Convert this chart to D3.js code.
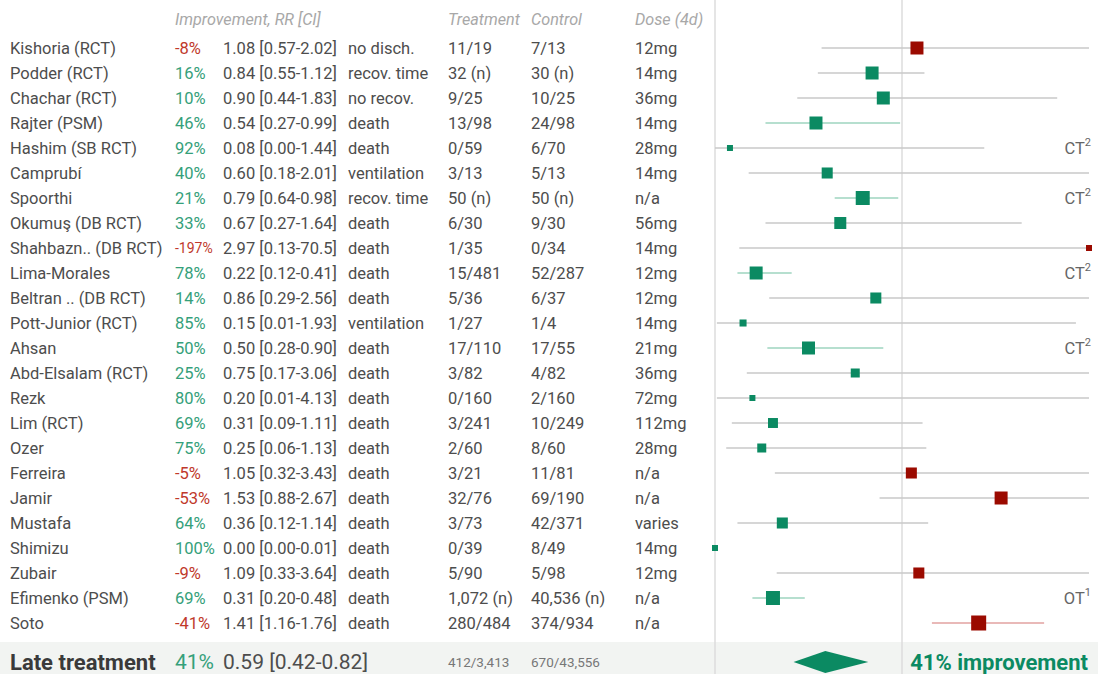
<!DOCTYPE html>
<html>
<head>
<meta charset="utf-8">
<script src="https://cdn.jsdelivr.net/npm/d3@7"></script>
<style>
  html, body { margin: 0; padding: 0; background: #fff; }
  svg { display: block; font-family: Roboto, "Noto Sans", sans-serif; }
</style>
</head>
<body>
<svg id="chart" width="1098" height="674"></svg>
<script>
// Late treatment studies
const studies = ["Kishoria (RCT)", "Podder (RCT)", "Chachar (RCT)", "Rajter (PSM)", "Hashim (SB RCT)",
  "Camprubí", "Spoorthi", "Okumuş (DB RCT)", "Shahbazn.. (DB RCT)", "Lima-Morales", "Beltran .. (DB RCT)",
  "Pott-Junior (RCT)", "Ahsan", "Abd-Elsalam (RCT)", "Rezk", "Lim (RCT)", "Ozer", "Ferreira", "Jamir",
  "Mustafa", "Shimizu", "Zubair", "Efimenko (PSM)", "Soto"];
const rr = [1.08, 0.84, 0.90, 0.54, 0.08, 0.60, 0.79, 0.67, 2.97, 0.22, 0.86, 0.15, 0.50, 0.75, 0.20,
  0.31, 0.25, 1.05, 1.53, 0.36, 0.00, 1.09, 0.31, 1.41];
const ciLow = [0.57, 0.55, 0.44, 0.27, 0.00, 0.18, 0.64, 0.27, 0.13, 0.12, 0.29, 0.01, 0.28, 0.17, 0.01,
  0.09, 0.06, 0.32, 0.88, 0.12, 0.00, 0.33, 0.20, 1.16];
const ciHigh = [2.02, 1.12, 1.83, 0.99, 1.44, 2.01, 0.98, 1.64, 70.5, 0.41, 2.56, 1.93, 0.90, 3.06, 4.13,
  1.11, 1.13, 3.43, 2.67, 1.14, 0.01, 3.64, 0.48, 1.76];
const outcomes = ["no disch.", "recov. time", "no recov.", "death", "death", "ventilation", "recov. time",
  "death", "death", "death", "death", "ventilation", "death", "death", "death", "death", "death", "death",
  "death", "death", "death", "death", "death", "death"];
const treatment = ["11/19", "32 (n)", "9/25", "13/98", "0/59", "3/13", "50 (n)", "6/30", "1/35", "15/481",
  "5/36", "1/27", "17/110", "3/82", "0/160", "3/241", "2/60", "3/21", "32/76", "3/73", "0/39", "5/90",
  "1,072 (n)", "280/484"];
const control = ["7/13", "30 (n)", "10/25", "24/98", "6/70", "5/13", "50 (n)", "9/30", "0/34", "52/287",
  "6/37", "1/4", "17/55", "4/82", "2/160", "10/249", "8/60", "11/81", "69/190", "42/371", "8/49", "5/98",
  "40,536 (n)", "374/934"];
const doses = ["12mg", "14mg", "36mg", "14mg", "28mg", "14mg", "n/a", "56mg", "14mg", "12mg", "12mg",
  "14mg", "21mg", "36mg", "72mg", "112mg", "28mg", "n/a", "n/a", "varies", "14mg", "12mg", "n/a", "n/a"];
// relative study weight (drives marker area)
const weights = [75, 75, 75, 75, 16, 54, 87, 64, 16, 75, 54, 22, 75, 36, 16, 44, 36, 54, 75, 54, 16, 54, 87, 100];
const notes = ["", "", "", "", ["CT", "2"], "", ["CT", "2"], "", "", ["CT", "2"], "", "", ["CT", "2"],
  "", "", "", "", "", "", "", "", "", ["OT", "1"], ""];
const headers = ["Improvement, RR [CI]", "Treatment", "Control", "Dose (4d)"];

// pooled estimate
const pooledLabel = "Late treatment";
const pooledRR = 0.59, pooledLow = 0.42, pooledHigh = 0.82;
const pooledTreatment = "412/3,413", pooledControl = "670/43,556";

// ---- layout ----
const W = 1098, H = 674;
const col = { name: 10, imp: 175, rr: 223, outcome: 348, treat: 448, ctrl: 531, dose: 635 };
const rowTop = 48, rowStep = 25;
const summaryTop = 642, summaryY = 662;
const fs = 16.5;

const C = {
  text: "#4d4d4d", head: "#a8a8a8", goodText: "#35a07a", badText: "#c0392b",
  good: "#0b8a62", bad: "#9b0a00", goodLine: "#9ed4bf", badLine: "#e2a2a0",
  neutralLine: "#c8c8c8", grid: "#dcdcdc", band: "#f2f4f2"
};

const svg = d3.select("#chart");
const x = d3.scaleLinear().domain([0, 2]).range([715, 1089]).clamp(true);
const y = d3.scalePoint().domain(d3.range(studies.length)).range([rowTop, rowTop + rowStep * (studies.length - 1)]);
const size = d3.scaleSqrt().domain([0, d3.max(weights)]).range([0, 15]);

const fmt2 = d3.format(".2f");
const fmtCI = v => v >= 10 ? d3.format(".1f")(v) : fmt2(v);
const improvement = v => Math.round((1 - v) * 100);

// summary band
svg.append("rect").attr("x", 0).attr("y", summaryTop).attr("width", W).attr("height", H - summaryTop)
  .attr("fill", C.band);

// reference lines: axis at 0 and no-effect line at RR = 1
svg.selectAll("line.ref").data([0, 1]).join("line")
  .attr("class", "ref")
  .attr("x1", d => x(d)).attr("x2", d => x(d))
  .attr("y1", 0).attr("y2", H)
  .attr("stroke", C.grid).attr("stroke-width", 1.5);

// headers
const headerX = [col.imp, col.treat, col.ctrl, col.dose];
svg.selectAll("text.head").data(headers).join("text")
  .attr("class", "head")
  .attr("x", (d, i) => headerX[i]).attr("y", 19).attr("dy", "0.35em")
  .attr("font-size", 16.2).attr("font-style", "italic")
  .attr("fill", C.head).text(d => d);

const rows = svg.selectAll("g.row").data(studies.map((s, i) => i)).join("g")
  .attr("class", "row")
  .attr("transform", i => `translate(0,${y(i)})`);

function cell(sel, xPos, textFn, opts = {}) {
  sel.append("text")
    .attr("x", xPos).attr("dy", "0.35em")
    .attr("font-size", opts.size || fs)
    .attr("fill", opts.fill || C.text)
    .text(textFn);
}

rows.each(function (i) {
  const g = d3.select(this);
  const imp = improvement(rr[i]);
  cell(g, col.name, studies[i]);
  g.append("text").attr("x", col.imp).attr("dy", "0.35em")
    .attr("font-size", imp <= -100 ? 14 : fs)
    .attr("fill", imp >= 0 ? C.goodText : C.badText)
    .text(imp + "%");
  cell(g, col.rr, `${fmt2(rr[i])} [${fmtCI(ciLow[i])}-${fmtCI(ciHigh[i])}]`);
  cell(g, col.outcome, outcomes[i]);
  cell(g, col.treat, treatment[i]);
  cell(g, col.ctrl, control[i]);
  cell(g, col.dose, doses[i]);

  // confidence interval
  const lineColor = ciHigh[i] < 1 ? C.goodLine : (ciLow[i] > 1 ? C.badLine : C.neutralLine);
  g.append("line")
    .attr("x1", x(ciLow[i])).attr("x2", x(ciHigh[i]))
    .attr("y1", 0).attr("y2", 0)
    .attr("stroke", lineColor).attr("stroke-width", 1.5);

  // point estimate
  const s = size(weights[i]);
  g.append("rect")
    .attr("x", x(rr[i]) - s / 2).attr("y", -s / 2)
    .attr("width", s).attr("height", s)
    .attr("fill", rr[i] <= 1 ? C.good : C.bad);

  // study type note
  if (notes[i]) {
    const t = g.append("text").attr("x", 1091).attr("dy", "0.35em")
      .attr("text-anchor", "end").attr("font-size", 16.5).attr("fill", "#666");
    t.append("tspan").text(notes[i][0]);
    t.append("tspan").attr("font-size", 11).attr("dy", "-0.7em").text(notes[i][1]);
  }
});

// pooled row
const sg = svg.append("g").attr("transform", `translate(0,${summaryY})`);
sg.append("text").attr("x", col.name).attr("dy", "0.35em")
  .attr("font-size", 22).attr("font-weight", 700).attr("fill", "#3a3a3a").text(pooledLabel);
sg.append("text").attr("x", col.imp).attr("dy", "0.35em")
  .attr("font-size", 21).attr("fill", C.goodText).text(improvement(pooledRR) + "%");
sg.append("text").attr("x", col.rr).attr("dy", "0.35em")
  .attr("font-size", 21).attr("fill", C.text)
  .text(`${fmt2(pooledRR)} [${fmt2(pooledLow)}-${fmt2(pooledHigh)}]`);
sg.append("text").attr("x", col.treat).attr("dy", "0.35em")
  .attr("font-size", 13.5).attr("fill", "#777").text(pooledTreatment);
sg.append("text").attr("x", col.ctrl).attr("dy", "0.35em")
  .attr("font-size", 13.5).attr("fill", "#777").text(pooledControl);

const dh = 11;
sg.append("path")
  .attr("d", `M${x(pooledLow)},0 L${x(pooledRR)},${-dh} L${x(pooledHigh)},0 L${x(pooledRR)},${dh} Z`)
  .attr("fill", C.good);

sg.append("text").attr("x", 1088).attr("dy", "0.35em").attr("text-anchor", "end")
  .attr("font-size", 22).attr("font-weight", 700).attr("fill", C.good)
  .text(`${improvement(pooledRR)}% improvement`);
</script>
</body>
</html>
